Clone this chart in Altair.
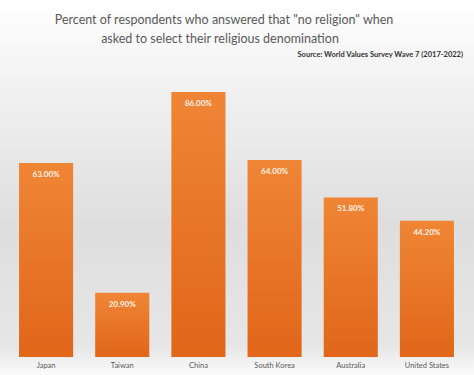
import altair as alt
import pandas as pd

countries = ["Japan", "Taiwan", "China", "South Korea", "Australia", "United States"]
values = [63.0, 20.9, 86.0, 64.0, 51.8, 44.2]
labels = ["63.00%", "20.90%", "86.00%", "64.00%", "51.80%", "44.20%"]

title_lines = ['Percent of respondents who answered that "no religion" when',
               'asked to select their religious denomination']
source = "Source: World Values Survey Wave 7 (2017-2022)"

df = pd.DataFrame({"country": countries, "value": values, "label": labels})
one = pd.DataFrame({"a": [0]})

W, H = 474, 375

xs = alt.Scale(range=[8, 465], paddingInner=0.29, paddingOuter=0.145)
x = alt.X("country:N", sort=countries, scale=xs, axis=None)
y = alt.Y("value:Q", scale=alt.Scale(domain=[0, 100], range=[357, 49]), axis=None)

bg = alt.Chart(one).mark_rect(
    color=alt.Gradient(gradient="linear", x1=0, y1=0, x2=0, y2=1,
                       stops=[alt.GradientStop(offset=0, color="#ffffff"),
                              alt.GradientStop(offset=0.2, color="#f3f3f3"),
                              alt.GradientStop(offset=0.6, color="#dedede"),
                              alt.GradientStop(offset=0.92, color="#e6e6e6"),
                              alt.GradientStop(offset=1, color="#fafafa")])
).encode(x=alt.value(0), x2=alt.value(W), y=alt.value(0), y2=alt.value(H))

bars = alt.Chart(df).mark_bar(
    color=alt.Gradient(gradient="linear", x1=0, y1=0, x2=0, y2=1,
                       stops=[alt.GradientStop(offset=0, color="#f08536"),
                              alt.GradientStop(offset=1, color="#e0661a")])
).encode(x=x, y=y, y2=alt.datum(0))

txt = alt.Chart(df).mark_text(
    dy=8, baseline="top", font="Lato", fontSize=8, fontWeight="bold", color="#fff4e8"
).encode(x=x, y=y, text="label:N")

xlab = alt.Chart(df).mark_text(
    baseline="middle", font="Lato", fontSize=7.5, color="#595959"
).encode(x=x, y=alt.value(366), text="country:N")

t1 = alt.Chart(one).mark_text(
    text=title_lines[0], font="Lato", fontSize=12.5, color="#595959", align="center",
    baseline="alphabetic"
).encode(x=alt.value(224), y=alt.value(24))
t2 = alt.Chart(one).mark_text(
    text=title_lines[1], font="Lato", fontSize=12.5, color="#595959", align="center",
    baseline="alphabetic"
).encode(x=alt.value(220), y=alt.value(43))
t3 = alt.Chart(one).mark_text(
    text=source, font="Lato", fontSize=7.5, fontWeight="bold", color="#333333", align="right",
    baseline="alphabetic"
).encode(x=alt.value(463), y=alt.value(57))

chart = alt.layer(bg, bars, txt, xlab, t1, t2, t3).properties(
    width=W, height=H, padding=0, autosize=alt.AutoSizeParams(type="none")
).configure_view(stroke=None).configure(background="#ffffff")

chart.save("out.html", embed_options={"renderer": "svg", "actions": False})
